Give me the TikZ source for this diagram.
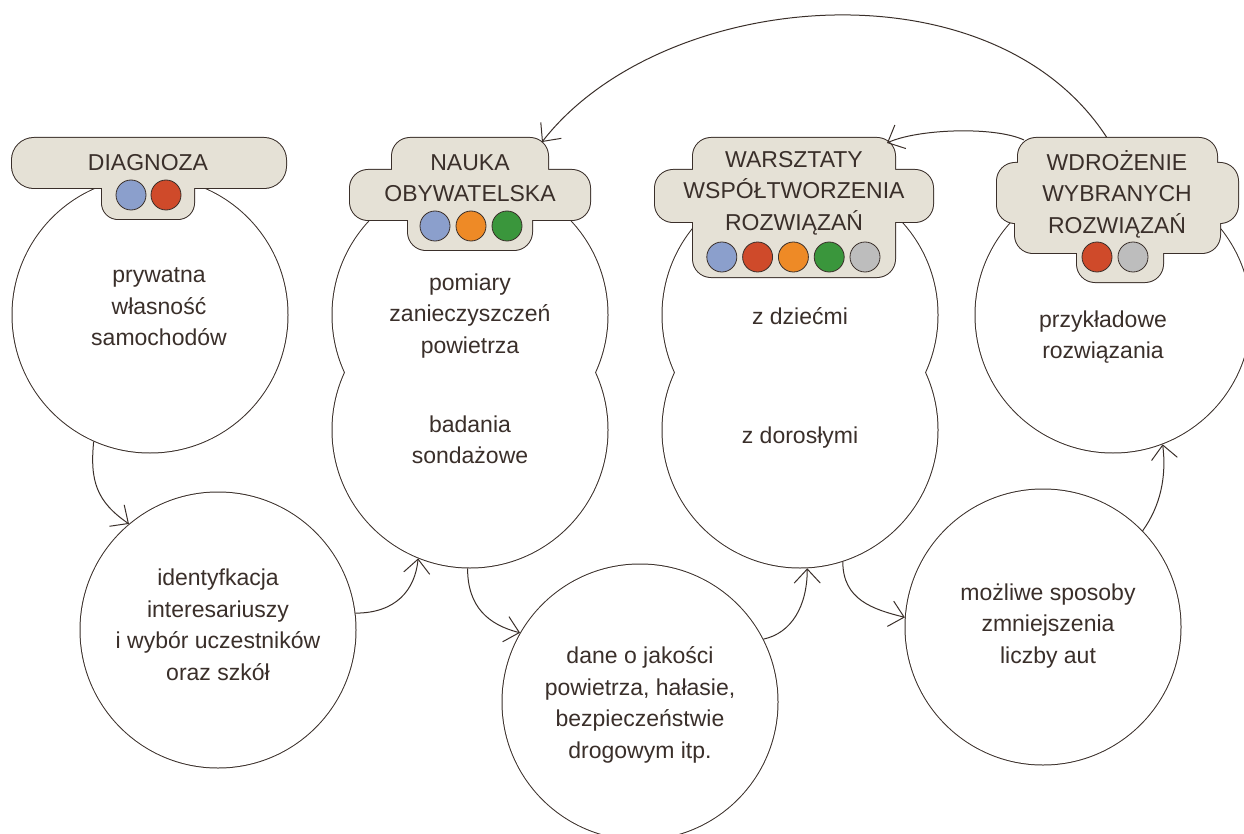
\documentclass[tikz,border=0pt]{standalone}
\usepackage{fontspec}
\setmainfont{Liberation Sans}
\usetikzlibrary{arrows.meta, calc}

\definecolor{ink}{HTML}{3A2F2A}
\definecolor{paper}{HTML}{E5E1D6}
\definecolor{cblue}{HTML}{8B9FCC}
\definecolor{cred}{HTML}{CF4A2A}
\definecolor{corange}{HTML}{EE8A26}
\definecolor{cgreen}{HTML}{3A963C}
\definecolor{cgray}{HTML}{BDBDBD}

\begin{document}
\begin{tikzpicture}[x=1pt, y=-1pt,
        bub/.style={circle, draw=ink, line width=2pt, minimum size=275pt, inner sep=0pt},
        hdrline/.style={draw=ink, line width=2pt, rounded corners=18pt},
        hdrfill/.style={fill=paper, rounded corners=18pt},
        hdrbox/.style={rectangle, hdrline, inner sep=0pt},
        txt/.style={align=center, text=ink, font=\fontsize{23}{31.5}\selectfont},
        dot/.style={circle, draw=ink, line width=0.8pt, minimum size=30pt, inner sep=0pt},
        flow/.style={draw=ink, line width=1pt, -{Straight Barb[length=14pt,width=26pt]}}]

        \useasboundingbox (0,0) rectangle (1244,834);

        % bubbles: outline first, then white fill (gives the merged outline)
        \node[bub] (diag) at (150,315) {};
        \node[bub] (ident) at (218,630) {};
        \node[bub] (naukaA) at (470,315) {};
        \node[bub] (naukaB) at (470,430) {};
        \node[bub] (dane) at (640,702) {};
        \node[bub] (warszA) at (800,315) {};
        \node[bub] (warszB) at (800,430) {};
        \node[bub] (mozl) at (1043,627) {};
        \node[bub] (wdr) at (1113,315) {};
        \foreach \n in {diag, ident, naukaA, naukaB, dane, warszA, warszB, mozl, wdr}
            \fill[white] (\n.center) circle[radius=137.5pt];

        \node[txt] (tdiag) at (159,307) {prywatna\\własność\\samochodów};
        \node[txt] (tident) at (218,625) {identyfkacja\\interesariuszy\\i wybór uczestników\\oraz szkół};
        \node[txt] (tnaukaA) at (470,316) {pomiary\\zanieczyszczeń\\powietrza};
        \node[txt] (tnaukaB) at (470,440) {badania\\sondażowe};
        \node[txt] (tdane) at (640,705) {dane o jakości\\powietrza, hałasie,\\bezpieczeństwie\\drogowym itp.};
        \node[txt] (twarszA) at (800,316) {z dziećmi};
        \node[txt] (twarszB) at (800,438) {z dorosłymi};
        \node[txt] (tmozl) at (1048,626) {możliwe sposoby\\zmniejszenia\\liczby aut};
        \node[txt] (twdr) at (1103,337) {przykładowe\\rozwiązania};

        \draw[flow] (diag.246) .. controls +(-4,40) and +(-32,-22) .. (ident.130);
        \draw[flow] (ident.7) .. controls +(40,0) and +(-3,32) .. (naukaB.248);
        \draw[flow] (naukaB.269) .. controls +(0,38) and +(-32,-8) .. (dane.150);
        \draw[flow] (dane.27) .. controls +(28,-6) and +(0,38) .. (warszB.273);
        \draw[flow] (warszB.288) .. controls +(0,38) and +(-32,-8) .. (mozl.176);
        \draw[flow] (mozl.44) .. controls +(18,-25) and +(4,32) .. (wdr.291);

        % headers
        \node[hdrbox, rounded corners=22pt, minimum width=274pt, minimum height=50pt] (hdiag) at (149,163) {};
        \draw[hdrline, rounded corners=16pt] (102,170) rectangle (194,219);
        \node[hdrbox, minimum width=156pt, minimum height=52pt] (hnauka) at (470,164) {};
        \draw[hdrline] (350,170) rectangle (590,220) (408,200) rectangle (532,250);
        \node[hdrbox, minimum width=202pt, minimum height=52pt] (hwarsz) at (794,164) {};
        \draw[hdrline] (655,170) rectangle (933,222) (693,200) rectangle (895,277);
        \node[hdrbox, minimum width=199pt, minimum height=52pt] (hwdr) at (1117.5,164) {};
        \draw[hdrline] (997,163) rectangle (1238,223) (1015,200) rectangle (1220,253)
            (1077,230) rectangle (1163,282);

        \fill[hdrfill, rounded corners=22pt] (12,138) rectangle (286,188);
        \fill[hdrfill, rounded corners=16pt] (102,170) rectangle (194,219);
        \fill[hdrfill] (392,138) rectangle (548,190) (350,170) rectangle (590,220)
            (408,200) rectangle (532,250);
        \fill[hdrfill] (693,138) rectangle (895,190) (655,170) rectangle (933,222)
            (693,200) rectangle (895,277);
        \fill[hdrfill] (1018,138) rectangle (1217,190) (997,163) rectangle (1238,223)
            (1015,200) rectangle (1220,253) (1077,230) rectangle (1163,282);

        \node[txt] (ldiag) at (148,163) {DIAGNOZA};
        \node[txt] (lnauka) at (470,178) {NAUKA\\OBYWATELSKA};
        \node[txt] (lwarsz) at (794,193) {WARSZTATY\\WSPÓŁTWORZENIA\\ROZWIĄZAŃ};
        \node[txt] (lwdr) at (1117,194) {WDROŻENIE\\WYBRANYCH\\ROZWIĄZAŃ};

        \foreach \c [count=\i] in {cblue, cred}
            \node[dot, fill=\c] (ddiag\i) at ({96+35*\i},195) {};
        \foreach \c [count=\i] in {cblue, corange, cgreen}
            \node[dot, fill=\c] (dnauka\i) at ({399+36*\i},226) {};
        \foreach \c [count=\i] in {cblue, cred, corange, cgreen, cgray}
            \node[dot, fill=\c] (dwarsz\i) at ({686+35.8*\i},257) {};
        \foreach \c [count=\i] in {cred, cgray}
            \node[dot, fill=\c] (dwdr\i) at ({1061+36*\i},257) {};

        \draw[flow] ($(hwdr.north)+(-11,0)$) .. controls +(-116,-178) and +(119,-153) .. ($(hnauka.north east)+(-7,5)$);
        \draw[flow] ($(hwdr.north west)+(7,3)$) .. controls +(-30,-14) and +(30,-14) .. ($(hwarsz.north east)+(-9,6)$);
    \end{tikzpicture}
\end{document}
